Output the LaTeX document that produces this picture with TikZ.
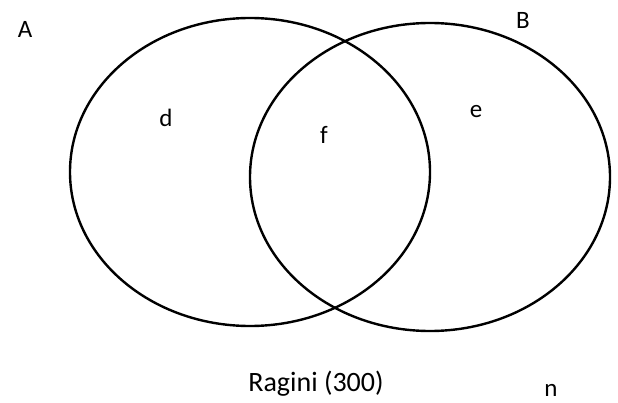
\documentclass[tikz,border=0pt]{standalone}
\usepackage{fontspec}
\setmainfont{Carlito}
\begin{document}
\begin{tikzpicture}[x=1pt,y=-1pt,
  setline/.style={draw=black,line width=2.4pt},
  lbl/.style={inner sep=0pt,anchor=base,font=\fontsize{25}{30}\selectfont},
  captxt/.style={inner sep=0pt,anchor=base,font=\fontsize{28}{32}\selectfont}]
\useasboundingbox (0,0) rectangle (618,403);
\draw[setline] (250,172) ellipse [x radius=180, y radius=154];
\draw[setline] (430,177) ellipse [x radius=180, y radius=154];
\node[lbl] (A) at (25,38) {A};
\node[lbl] (B) at (523,29) {B};
\node[lbl] (d) at (166,127) {d};
\node[lbl] (f) at (324,144) {f};
\node[lbl] (e) at (476,118) {e};
\node[captxt] (R) at (316,391) {Ragini (300)};
\node[lbl] (n) at (551,396) {n};
\end{tikzpicture}
\end{document}
